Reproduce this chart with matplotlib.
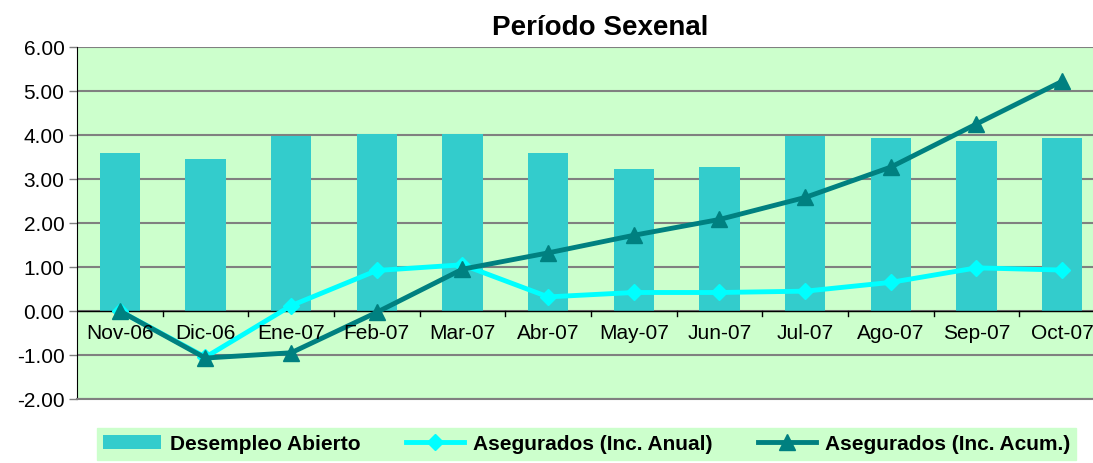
#desempleo vs asegurados, periodo sexenal
import numpy as np
import matplotlib.pyplot as plt

plt.rcParams['font.family'] = ['Liberation Sans', 'DejaVu Sans']

meses = ['Nov-06', 'Dic-06', 'Ene-07', 'Feb-07', 'Mar-07', 'Abr-07',
         'May-07', 'Jun-07', 'Jul-07', 'Ago-07', 'Sep-07', 'Oct-07']
desempleo = [3.60, 3.46, 3.97, 4.02, 4.02, 3.60, 3.22, 3.27, 3.97, 3.93, 3.87, 3.93]
aseg_anual = [0.00, -1.05, 0.12, 0.92, 1.05, 0.32, 0.42, 0.42, 0.45, 0.65, 0.98, 0.93]
aseg_acum = [0.00, -1.07, -0.95, -0.03, 0.95, 1.32, 1.72, 2.08, 2.58, 3.27, 4.25, 5.22]
y_ticks = [-2, -1, 0, 1, 2, 3, 4, 5, 6]

x = np.arange(len(meses))

fig = plt.figure(figsize=(10.93, 4.64), dpi=100)
ax = fig.add_axes([0.0704, 0.138, 0.9296, 0.7586])
ax.set_facecolor('#CCFFCC')

b = ax.bar(x, desempleo, width=0.47, color='#33CCCC', label='Desempleo Abierto', zorder=2)
l1, = ax.plot(x, aseg_anual, color='#00FFFF', lw=3.5, marker='D', ms=8,
              label='Asegurados (Inc. Anual)', zorder=3)
l2, = ax.plot(x, aseg_acum, color='#008080', lw=3.5, marker='^', ms=11,
              label='Asegurados (Inc. Acum.)', zorder=4)

ax.set_ylim(-2, 6)
ax.set_xlim(-0.5, 11.36)
ax.set_yticks(y_ticks)
ax.set_yticklabels(['%.2f' % v for v in y_ticks], fontsize=15)
ax.yaxis.grid(True, color='#808080', lw=1.5, zorder=1)
ax.set_axisbelow(True)
ax.tick_params(axis='y', length=6, width=1, color='#808080', pad=3)

# categorias sobre la linea de cero
ax.set_xticks([])
for xi in np.arange(0.5, 11, 1):
    ax.plot([xi, xi], [0, -0.12], color='black', lw=1, zorder=2)
ax.axhline(0, color='black', lw=1, zorder=2)
for xi, m in zip(x, meses):
    ax.text(xi, -0.5, m, ha='center', va='center', fontsize=15, zorder=5)

ax.spines['left'].set_color('black')
ax.spines['bottom'].set_color('#808080')
ax.spines['bottom'].set_linewidth(1.5)
ax.spines['top'].set_visible(False)
ax.spines['right'].set_visible(False)

fig.text(0.549, 0.94, 'Período Sexenal', ha='center', va='center',
         fontsize=20, fontweight='bold')

leg = fig.legend([b, l1, l2], [b.get_label(), l1.get_label(), l2.get_label()],
                 loc='center', bbox_to_anchor=(0.5366, 0.041), ncol=3,
                 frameon=True, fancybox=False, prop={'weight': 'bold', 'size': 15},
                 handlelength=2.8, handletextpad=0.4, columnspacing=2.2,
                 borderpad=0.3, borderaxespad=0)
leg.get_frame().set_facecolor('#CCFFCC')
leg.get_frame().set_edgecolor('#CCFFCC')
leg.get_frame().set_alpha(1)

fig.savefig('out.png', dpi=100)
